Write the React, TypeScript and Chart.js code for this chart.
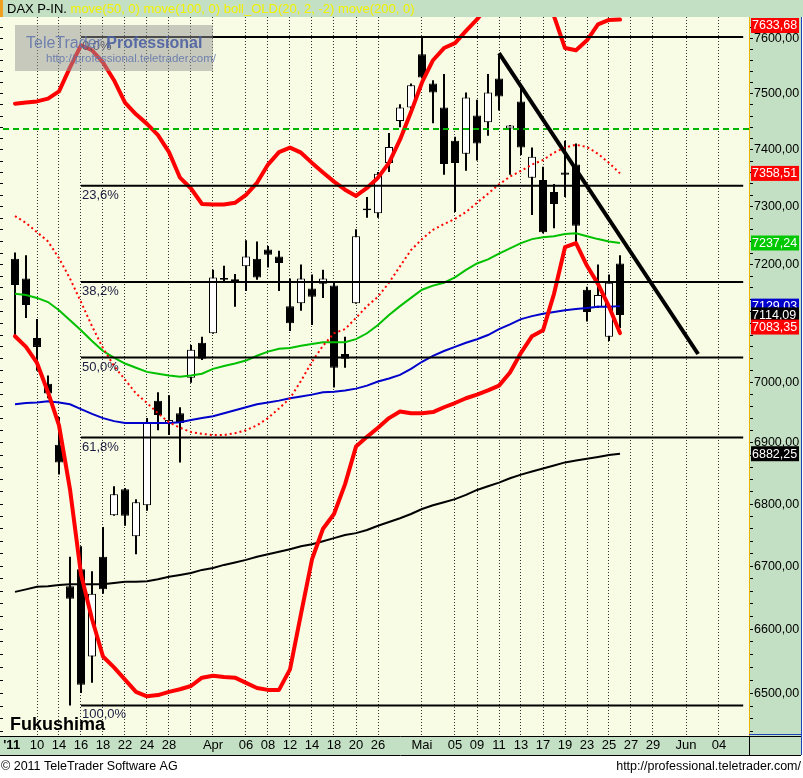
import React, { useEffect, useRef } from 'react';
import { Chart, registerables } from 'chart.js';

Chart.register(...registerables);

const FONT = '"Liberation Sans", Arial, sans-serif';
const PANEL = '#c4e0c4';
const PLOT_BG = '#f8fce4';

// ---- candles (trading days 8 Mar 2011 .. 26 May 2011) ----
const opens = [7210, 7176, 7075, 6998, 6897, 6668, 6695, 6557, 6715, 6782, 6824, 6748, 6798, 6970, 6933, 6949, 7008, 7067, 7083, 7177, 7175, 7197, 7210, 7226, 7214, 7129, 7134, 7159, 7167, 7164, 7048, 7134, 7297, 7289, 7377, 7451, 7475, 7571, 7518, 7475, 7416, 7393, 7461, 7449, 7527, 7438, 7486, 7351, 7347, 7326, 7360, 7374, 7157, 7128, 7077, 7202];
const highs = [7221, 7216, 7107, 7012, 6943, 6715, 6732, 6692, 6763, 6829, 6826, 6808, 6941, 6984, 6979, 6959, 7063, 7077, 7191, 7198, 7184, 7242, 7240, 7232, 7224, 7176, 7200, 7183, 7191, 7172, 7077, 7261, 7317, 7361, 7430, 7481, 7518, 7602, 7524, 7535, 7423, 7502, 7489, 7535, 7569, 7444, 7511, 7404, 7370, 7340, 7416, 7411, 7162, 7200, 7183, 7216];
const lows = [7078, 7109, 7020, 6974, 6848, 6481, 6500, 6516, 6656, 6781, 6765, 6719, 6789, 6921, 6913, 6868, 7000, 7038, 7082, 7169, 7128, 7155, 7174, 7195, 7155, 7087, 7121, 7097, 7143, 6992, 7025, 7133, 7281, 7281, 7361, 7440, 7465, 7527, 7447, 7356, 7291, 7363, 7381, 7425, 7470, 7356, 7391, 7286, 7254, 7263, 7317, 7237, 7103, 7126, 7070, 7092];
const closes = [7165, 7131, 7060, 6982, 6868, 6648, 6513, 6656, 6663, 6816, 6781, 6803, 6933, 6946, 6938, 6933, 7055, 7040, 7178, 7174, 7172, 7214, 7178, 7217, 7203, 7100, 7176, 7145, 7176, 7025, 7040, 7249, 7294, 7358, 7405, 7475, 7515, 7529, 7502, 7375, 7377, 7493, 7411, 7502, 7495, 7443, 7404, 7388, 7256, 7305, 7356, 7267, 7119, 7148, 7169, 7114.09];

// ---- indicators ----
const ma50 = [7150, 7148, 7143, 7136, 7122, 7105, 7088, 7070, 7053, 7042, 7032, 7025, 7018, 7015, 7012, 7010, 7012, 7015, 7023, 7028, 7032, 7037, 7045, 7052, 7057, 7058, 7062, 7065, 7068, 7068, 7068, 7073, 7083, 7097, 7114, 7129, 7143, 7157, 7164, 7169, 7178, 7191, 7202, 7209, 7219, 7228, 7237, 7244, 7247, 7249, 7253, 7254, 7249, 7244, 7240, 7237.24];
const ma100 = [6964, 6966, 6967, 6969, 6967, 6964, 6956, 6948, 6941, 6936, 6933, 6933, 6933, 6933, 6933, 6934, 6938, 6941, 6944, 6949, 6954, 6959, 6964, 6967, 6970, 6974, 6977, 6980, 6984, 6985, 6987, 6990, 6995, 7002, 7007, 7013, 7023, 7035, 7045, 7053, 7060, 7067, 7073, 7080, 7090, 7098, 7107, 7112, 7116, 7119, 7122, 7124, 7126, 7128, 7128, 7129.03];
const ma200 = [6659, 6663, 6667, 6668, 6670, 6671, 6671, 6671, 6671, 6673, 6675, 6675, 6676, 6679, 6683, 6686, 6689, 6694, 6697, 6702, 6706, 6710, 6715, 6719, 6723, 6727, 6732, 6735, 6740, 6745, 6750, 6753, 6758, 6765, 6771, 6777, 6784, 6792, 6798, 6803, 6808, 6815, 6823, 6829, 6835, 6842, 6848, 6853, 6858, 6863, 6868, 6871, 6874, 6877, 6880, 6882.25];
const bollUpper = [7482, 7484, 7486, 7491, 7504, 7547, 7587, 7578, 7556, 7524, 7484, 7463, 7446, 7426, 7396, 7351, 7332, 7305, 7304, 7304, 7307, 7321, 7342, 7374, 7396, 7404, 7395, 7377, 7360, 7344, 7330, 7319, 7333, 7351, 7377, 7418, 7467, 7520, 7560, 7582, 7591, 7613, 7634, 7659, 7683, 7689, 7676, 7670, 7676, 7640, 7582, 7578, 7596, 7625, 7633, 7633.68];
const bollMid = [7284, 7272, 7256, 7240, 7211, 7176, 7136, 7095, 7058, 7028, 7005, 6982, 6966, 6949, 6934, 6925, 6918, 6915, 6913, 6913, 6916, 6921, 6929, 6941, 6957, 6974, 7003, 7035, 7062, 7083, 7090, 7109, 7129, 7145, 7169, 7197, 7225, 7244, 7260, 7270, 7279, 7291, 7307, 7323, 7339, 7353, 7363, 7374, 7382, 7395, 7404, 7409, 7405, 7393, 7377, 7358.51];
const bollLower = [7078, 7060, 7033, 6984, 6929, 6824, 6687, 6616, 6557, 6540, 6521, 6502, 6495, 6497, 6502, 6506, 6511, 6524, 6527, 6525, 6524, 6516, 6508, 6505, 6505, 6537, 6624, 6711, 6760, 6784, 6832, 6894, 6910, 6925, 6941, 6952, 6949, 6949, 6951, 6959, 6966, 6974, 6980, 6987, 6995, 7017, 7050, 7078, 7088, 7150, 7230, 7237, 7198, 7167, 7128, 7083.35];

// ---- drawing tools ----
const fibLevels = [7602, 7337, 7170, 7042, 6909, 6481];
const fibLabels = ['0,0%', '23,6%', '38,2%', '50,0%', '61,8%', '100,0%'];
const fibFrom = 6;
const fibTo = 66.2;
const dashedLevel = 7437;
const trendX = [44, 62.1];
const trendY = [7573, 7048];

// ---- axes ----
const X_MIN = -12 / 11;
const X_MAX = 734 / 11;
const Y_MIN = 6433.8;
const Y_MAX = 7638.4;
const xTickIndex = [-0.3, 2, 4, 6, 8, 10, 12, 14, 16, 18, 21, 23, 25, 27, 29, 31, 33, 37, 40, 42, 44, 46, 48, 50, 52, 54, 56, 58, 61, 64];
const xTickLabels = ["'11", '10', '14', '16', '18', '22', '24', '28', '', 'Apr', '06', '08', '12', '14', '18', '20', '26', 'Mai', '05', '09', '11', '13', '17', '19', '23', '25', '27', '29', 'Jun', '04'];
const yMajorTicks = [6500, 6600, 6700, 6800, 6900, 7000, 7100, 7200, 7300, 7400, 7500, 7600];
const yTickStep = 20;

// ---- last-value markers on the price axis ----
const markValues = [7633.68, 7358.51, 7237.24, 7129.03, 7114.09, 7083.35, 6882.25];
const markColors = ['#ff0000', '#ff0000', '#00c800', '#0000cc', '#000000', '#ff0000', '#000000'];

const headerTitle = 'DAX P-IN.';
const headerIndicators = 'move(50, 0) move(100, 0) boll_OLD(20, 2, -2) move(200, 0)';

const fmt = (v: number) => v.toFixed(2).replace('.', ',');

function yTickValues(): number[] {
  const out: number[] = [];
  for (let v = 6440; v <= 7620; v += yTickStep) out.push(v);
  return out;
}

const series = (arr: number[]) => arr.map((v, i) => ({ x: i, y: v }));

const framePlugin = {
  id: 'frame',
  beforeDraw(chart: any) {
    const { ctx, chartArea: a, width, height } = chart;
    ctx.save();
    ctx.fillStyle = '#ffffff';
    ctx.fillRect(0, 0, width, height);
    ctx.fillStyle = PANEL;
    ctx.fillRect(0, 0, width, a.top);
    ctx.fillStyle = '#f0a020';
    ctx.fillRect(0, 0, 3, a.top);
    ctx.fillStyle = PLOT_BG;
    ctx.fillRect(0, a.top, a.right, a.bottom - a.top);
    ctx.fillStyle = PANEL;
    ctx.fillRect(a.right, a.top, 801 - a.right, a.bottom - a.top);
    ctx.fillRect(0, a.bottom, 801, 19);

    ctx.font = `13px ${FONT}`;
    ctx.textBaseline = 'middle';
    ctx.textAlign = 'left';
    ctx.fillStyle = '#000';
    ctx.fillText(headerTitle, 7, 9);
    const w = ctx.measureText(headerTitle + ' ').width;
    ctx.fillStyle = '#f2f200';
    ctx.fillText(headerIndicators, 7 + w, 9);

    ctx.font = `12.5px ${FONT}`;
    ctx.fillStyle = '#000';
    ctx.fillText('\u00a9 2011 TeleTrader Software AG', 1, 767);
    ctx.textAlign = 'right';
    ctx.fillText('http://professional.teletrader.com/', 801, 767);
    ctx.restore();
  },
  afterDatasetsDraw(chart: any) {
    const { ctx, chartArea: a, scales } = chart;
    const xs = scales.x;
    const ys = scales.y;
    ctx.save();
    ctx.font = `13px ${FONT}`;
    ctx.fillStyle = '#1c1c40';
    ctx.textAlign = 'left';
    ctx.textBaseline = 'top';
    fibLevels.forEach((v, k) => {
      ctx.fillText(fibLabels[k], xs.getPixelForValue(fibFrom) + 1, ys.getPixelForValue(v) + 3);
    });

    ctx.font = `bold 18px ${FONT}`;
    ctx.fillStyle = '#000';
    ctx.textBaseline = 'alphabetic';
    ctx.fillText('Fukushima', a.left + 7, a.bottom - 6);

    // watermark
    ctx.fillStyle = 'rgba(150,150,150,0.5)';
    ctx.fillRect(15, 25, 198, 46);
    ctx.font = `16px ${FONT}`;
    ctx.fillStyle = 'rgba(95,115,170,0.85)';
    ctx.fillText('TeleTrader ', 26, 48);
    const tw = ctx.measureText('TeleTrader ').width;
    ctx.font = `bold 16px ${FONT}`;
    ctx.fillStyle = 'rgba(75,95,160,0.9)';
    ctx.fillText('Professional', 26 + tw, 48);
    ctx.font = `11.5px ${FONT}`;
    ctx.fillStyle = 'rgba(95,115,170,0.85)';
    ctx.fillText('http://professional.teletrader.com/', 46, 62);
    ctx.restore();
  },
  afterDraw(chart: any) {
    const { ctx, chartArea: a, scales } = chart;
    const ys = scales.y;
    ctx.save();
    // band borders
    ctx.strokeStyle = '#000';
    ctx.lineWidth = 1;
    ctx.beginPath();
    ctx.moveTo(0, a.bottom + 0.5);
    ctx.lineTo(801, a.bottom + 0.5);
    ctx.moveTo(0, a.bottom + 19.5);
    ctx.lineTo(801, a.bottom + 19.5);
    ctx.moveTo(a.right + 0.5, a.bottom);
    ctx.lineTo(a.right + 0.5, a.bottom + 19);
    ctx.stroke();
    ctx.strokeStyle = '#2040c0';
    ctx.beginPath();
    ctx.moveTo(801.5, a.top);
    ctx.lineTo(801.5, a.bottom + 19);
    ctx.moveTo(a.right, a.bottom - 1.5);
    ctx.lineTo(801, a.bottom - 1.5);
    ctx.stroke();

    // value markers
    ctx.font = `12.5px ${FONT}`;
    ctx.textBaseline = 'middle';
    ctx.textAlign = 'left';
    markValues.forEach((v, k) => {
      const cy = ys.getPixelForValue(v) + (k === 5 ? -6 : 0);
      const top = Math.max(a.top + 1, cy - 7.5);
      ctx.fillStyle = markColors[k];
      ctx.fillRect(a.right + 2, top, 48, 15);
      ctx.fillStyle = '#fff';
      ctx.fillText(fmt(v), a.right + 3, top + 8);
    });
    ctx.restore();
  },
};

export default function App() {
  const ref = useRef<HTMLCanvasElement | null>(null);

  useEffect(() => {
    document.body.style.margin = '0';
    const canvas = ref.current;
    if (!canvas) return;
    Chart.defaults.font.family = FONT;

    const idx = opens.map((_, i) => i);
    const lineBase = { type: 'line' as const, pointRadius: 0, pointHoverRadius: 0, tension: 0, fill: false, xAxisID: 'x', yAxisID: 'y' };

    const datasets: any[] = [
      ...fibLevels.map((v) => ({
        ...lineBase,
        data: [{ x: fibFrom, y: v }, { x: fibTo, y: v }],
        borderColor: '#000',
        borderWidth: 2,
        order: 3,
      })),
      {
        ...lineBase,
        data: [{ x: X_MIN, y: dashedLevel }, { x: X_MAX, y: dashedLevel }],
        borderColor: '#00b400',
        borderWidth: 2,
        borderDash: [6, 4],
        order: 3,
      },
      {
        ...lineBase,
        data: [{ x: trendX[0], y: trendY[0] }, { x: trendX[1], y: trendY[1] }],
        borderColor: '#000',
        borderWidth: 4,
        borderCapStyle: 'butt',
        order: 1,
      },
      { ...lineBase, data: series(ma200), borderColor: '#000', borderWidth: 2, order: 8 },
      { ...lineBase, data: series(ma100), borderColor: '#0000cc', borderWidth: 2, order: 7 },
      { ...lineBase, data: series(ma50), borderColor: '#00c000', borderWidth: 2, order: 6 },
      { ...lineBase, data: series(bollMid), borderColor: '#ff0000', borderWidth: 2, borderDash: [2, 3], order: 5 },
      { ...lineBase, data: series(bollUpper), borderColor: '#ff0000', borderWidth: 4, borderJoinStyle: 'round', borderCapStyle: 'round', order: 4 },
      { ...lineBase, data: series(bollLower), borderColor: '#ff0000', borderWidth: 4, borderJoinStyle: 'round', borderCapStyle: 'round', order: 4 },
      {
        type: 'bar',
        data: idx.map((i) => ({ x: i, y: [lows[i], highs[i]] })),
        backgroundColor: '#000',
        borderWidth: 0,
        barThickness: 2,
        grouped: false,
        inflateAmount: 0,
        order: 21,
        xAxisID: 'x',
        yAxisID: 'y',
      },
      {
        type: 'bar',
        data: idx.map((i) => ({ x: i, y: [opens[i], closes[i]] })),
        backgroundColor: idx.map((i) => (closes[i] >= opens[i] ? '#ffffff' : '#000000')),
        borderColor: '#000',
        borderWidth: 1,
        borderSkipped: false,
        barThickness: 8,
        grouped: false,
        inflateAmount: 0,
        order: 20,
        xAxisID: 'x',
        yAxisID: 'y',
      },
    ];

    const yTicks = yTickValues();

    const chart = new Chart(canvas, {
      type: 'line',
      data: { datasets },
      options: {
        responsive: false,
        devicePixelRatio: 1,
        animation: false,
        events: [],
        layout: { padding: { top: 17, left: 0, right: 2, bottom: 23 } },
        plugins: { legend: { display: false }, tooltip: { enabled: false }, title: { display: false } },
        scales: {
          x: {
            type: 'linear',
            min: X_MIN,
            max: X_MAX,
            offset: false,
            afterBuildTicks: (s: any) => {
              s.ticks = xTickIndex.map((v) => ({ value: v }));
            },
            afterFit: (s: any) => {
              s.height = 19;
            },
            grid: {
              display: true,
              drawOnChartArea: true,
              drawTicks: false,
              offset: false,
              lineWidth: 1,
              color: (c: any) => (c.tick && c.tick.value < 0 ? 'rgba(0,0,0,0)' : '#303030'),
            },
            border: { display: false, dash: [1, 2] },
            ticks: {
              autoSkip: false,
              maxRotation: 0,
              minRotation: 0,
              padding: 2,
              color: '#000',
              font: (c: any) => ({ family: FONT, size: 13, weight: c.tick && c.tick.value < 0 ? 'bold' : 'normal' }),
              callback: (_v: any, i: number) => xTickLabels[i],
            },
          },
          y: {
            type: 'logarithmic',
            position: 'right',
            min: Y_MIN,
            max: Y_MAX,
            afterBuildTicks: (s: any) => {
              s.ticks = yTicks.map((v) => ({ value: v }));
            },
            afterFit: (s: any) => {
              s.width = 52;
            },
            grid: { drawOnChartArea: false, drawTicks: true, tickLength: 4, tickColor: '#000', color: '#000' },
            border: { display: true, color: '#e8b400', width: 1 },
            ticks: {
              autoSkip: false,
              padding: 1,
              color: '#000',
              font: { family: FONT, size: 12.5 },
              callback: (v: any) => (yMajorTicks.includes(Math.round(Number(v))) ? fmt(Number(v)) : ''),
            },
          },
          yL: {
            type: 'logarithmic',
            position: 'left',
            min: Y_MIN,
            max: Y_MAX,
            afterBuildTicks: (s: any) => {
              s.ticks = yTicks.map((v) => ({ value: v }));
            },
            afterFit: (s: any) => {
              s.width = 3;
            },
            grid: { drawOnChartArea: false, drawTicks: true, tickLength: 3, tickColor: '#000' },
            border: { display: false },
            ticks: { display: false },
          },
        },
      } as any,
      plugins: [framePlugin],
    });

    return () => chart.destroy();
  }, []);

  return (
    <canvas ref={ref} width={803} height={778} style={{ display: 'block', width: 803, height: 778 }} />
  );
}
